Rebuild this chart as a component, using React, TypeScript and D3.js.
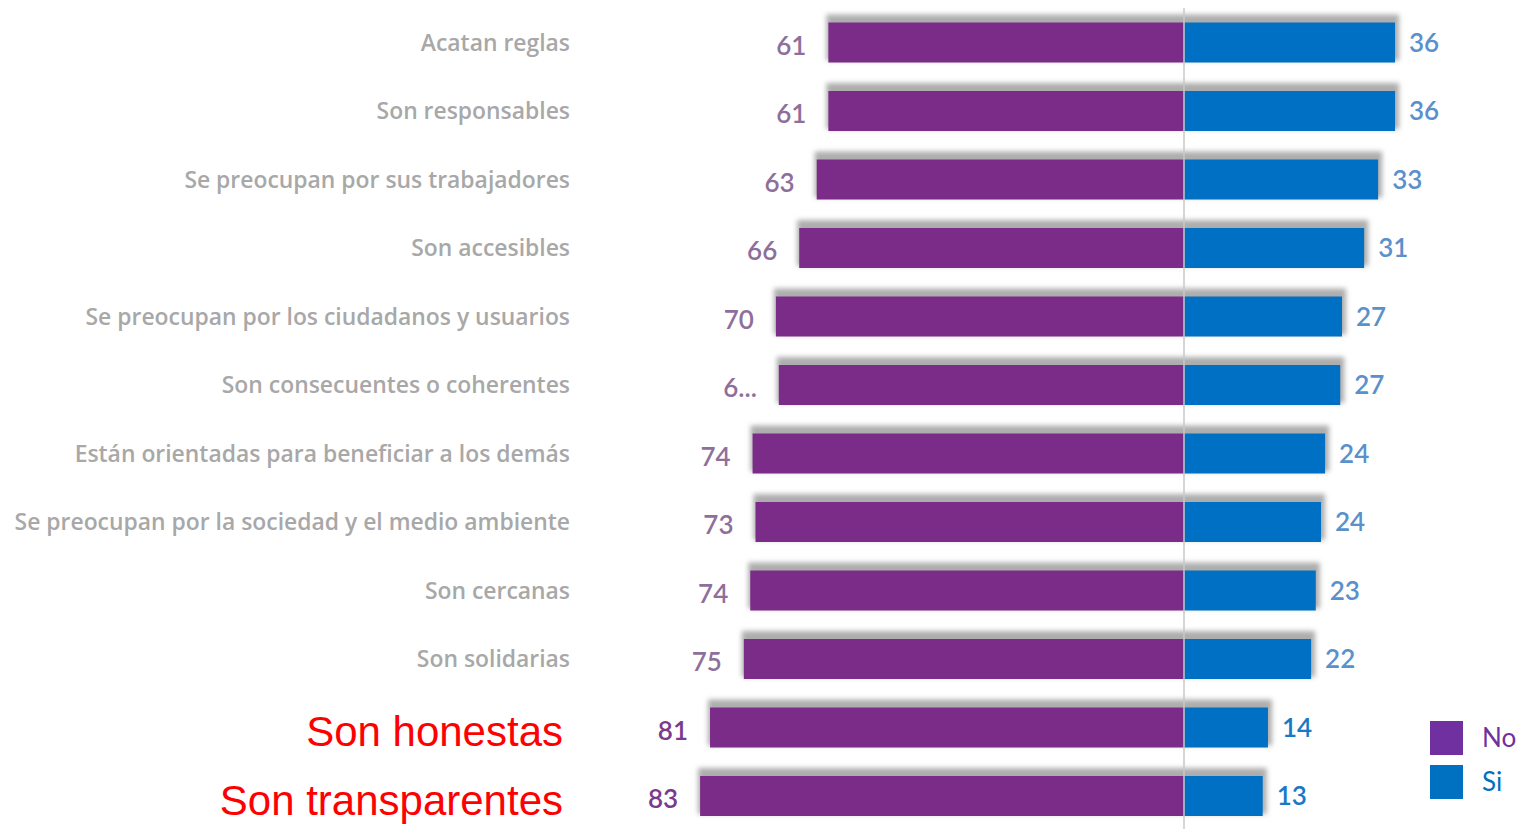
import React from "react";
import * as d3 from "d3";

const categories = [
  "Acatan reglas",
  "Son responsables",
  "Se preocupan por sus trabajadores",
  "Son accesibles",
  "Se preocupan por los ciudadanos y usuarios",
  "Son consecuentes o coherentes",
  "Están orientadas para beneficiar a los demás",
  "Se preocupan por la sociedad y el medio ambiente",
  "Son cercanas",
  "Son solidarias",
  "Son honestas",
  "Son transparentes",
];
const noValues = [61, 61, 63, 66, 70, 69.5, 74, 73.5, 74.4, 75.5, 81.3, 83];
const noLabels = ["61", "61", "63", "66", "70", "6...", "74", "73", "74", "75", "81", "83"];
const siValues = [36.2, 36.2, 33.3, 30.9, 27.1, 26.8, 24.2, 23.5, 22.6, 21.8, 14.4, 13.5];
const siLabels = ["36", "36", "33", "31", "27", "27", "24", "24", "23", "22", "14", "13"];
const highlighted = ["Son honestas", "Son transparentes"];
const legendItems = ["No", "Si"];

const W = 1519;
const H = 829;
const PURPLE = "#7b2c88";
const BLUE = "#0070c4";

export default function App() {
  const x = d3.scaleLinear().domain([-100, 100]).range([1184 - 583, 1184 + 583]);
  const y = d3.scalePoint<string>().domain(categories).range([42.5, 796]);
  const bh = 40;
  const legendColor = d3.scaleOrdinal<string, string>().domain(legendItems).range(["#7030a0", "#0070c0"]);

  return (
    <svg width={W} height={H} style={{ position: "absolute", left: 0, top: 0, background: "#fff" }}>
      <defs>
        <filter id="sh" x="-5%" y="-50%" width="110%" height="200%">
          <feGaussianBlur stdDeviation="2.5" />
        </filter>
      </defs>
      {/* shadows */}
      {categories.map((c, i) => (
        <rect
          key={"s" + c}
          x={x(-noValues[i]) - 2}
          y={(y(c) as number) - bh / 2 - 8}
          width={x(siValues[i]) - x(-noValues[i]) + 6}
          height={bh + 6}
          fill="#adadad"
          filter="url(#sh)"
        />
      ))}
      {categories.map((c, i) => {
        const cy = y(c) as number;
        return (
          <g key={c}>
            <rect x={x(-noValues[i])} y={cy - bh / 2} width={x(0) - x(-noValues[i])} height={bh} fill={PURPLE} />
            <rect x={x(0)} y={cy - bh / 2} width={x(siValues[i]) - x(0)} height={bh} fill={BLUE} />
          </g>
        );
      })}
      {/* center line */}
      <line x1={x(0)} x2={x(0)} y1={8} y2={H} stroke="#c8c8c8" strokeWidth={1.5} />
      {/* value labels */}
      {categories.map((c, i) => {
        const cy = y(c) as number;
        return (
          <g key={"v" + c} style={{ fontFamily: "Lato, 'Open Sans', sans-serif", fontSize: 26, fontWeight: 600 }}>
            <text x={x(-noValues[i]) - 22} y={cy + 3} dy="0.35em" textAnchor="end" fill={i >= 10 ? "#7a3a8e" : "#8e6f9c"}>
              {noLabels[i]}
            </text>
            <text x={x(siValues[i]) + 14} y={cy} dy="0.35em" textAnchor="start" fill={i >= 10 ? "#1a78c8" : "#5a90cc"}>
              {siLabels[i]}
            </text>
          </g>
        );
      })}
      {/* category labels */}
      {categories.map((c) => {
        const cy = y(c) as number;
        const hl = highlighted.includes(c);
        return (
          <text
            key={"c" + c}
            x={hl ? 563 : 570}
            y={hl ? cy + 4 : cy}
            dy="0.35em"
            textAnchor="end"
            fill={hl ? "#ff0000" : "#a8a8a8"}
            style={{
              fontFamily: hl ? "'Liberation Sans', Arial, sans-serif" : "'Open Sans', Lato, sans-serif",
              fontSize: hl ? 42 : 22.9,
              fontWeight: hl ? 400 : 600,
            }}
          >
            {c}
          </text>
        );
      })}
      {/* legend */}
      {legendItems.map((l, i) => (
        <g key={l} transform={`translate(1430, ${721 + i * 44})`}>
          <rect width={33} height={34} fill={legendColor(l)} />
          <text x={52} y={17} dy="0.35em" fill={legendColor(l)} style={{ fontFamily: "Lato, 'Open Sans', sans-serif", fontSize: 26 }}>
            {l}
          </text>
        </g>
      ))}
    </svg>
  );
}
